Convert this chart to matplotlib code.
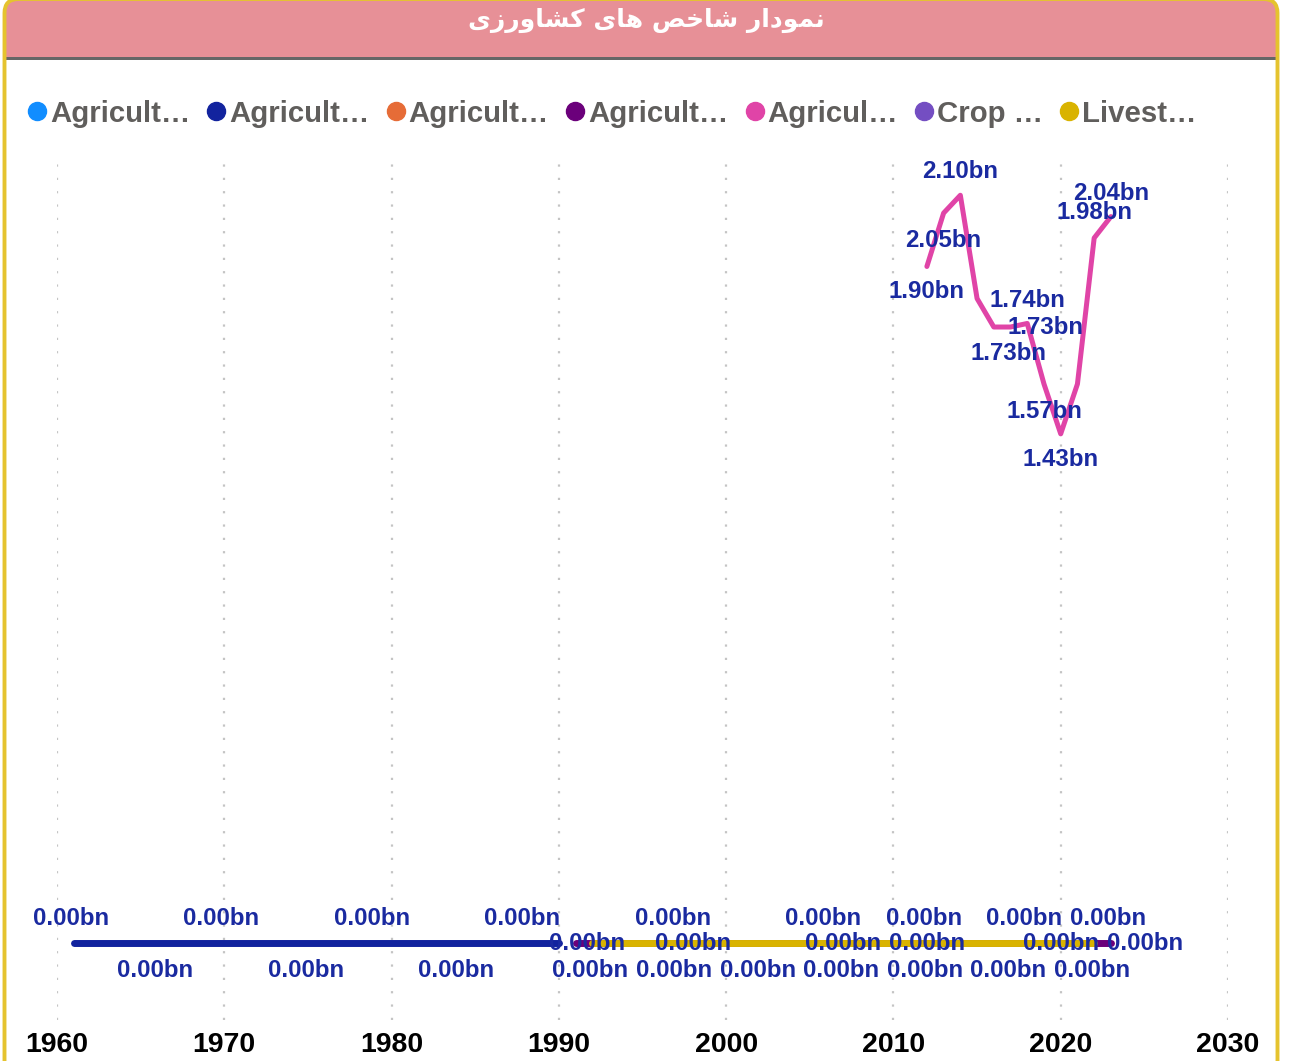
import matplotlib
matplotlib.use('Agg')
import matplotlib.pyplot as plt
from matplotlib.patches import FancyBboxPatch, Rectangle
from matplotlib.lines import Line2D
from matplotlib.transforms import IdentityTransform

plt.rcParams['font.family'] = ['Liberation Sans', 'DejaVu Sans']

# ---- data ----
title = "نمودار شاخص های کشاورزی"
legend_names = ["Agricult…", "Agricult…", "Agricult…", "Agricult…", "Agricul…", "Crop …", "Livest…"]
legend_colors = ['#118DFF', '#12239E', '#E66C37', '#6B007B', '#E044A7', '#744EC2', '#D9B300']

blue_years = list(range(1961, 1991))
blue_vals = [0.0] * len(blue_years)
purple_years = list(range(1991, 2024))
purple_vals = [0.0] * len(purple_years)
yellow_years = list(range(1992, 2023))
yellow_vals = [0.0] * len(yellow_years)
pink_years = [2012, 2013, 2014, 2015, 2016, 2017, 2018, 2019, 2020, 2021, 2022, 2023]
pink_vals = [1.90, 2.05, 2.10, 1.81, 1.73, 1.73, 1.74, 1.57, 1.43, 1.57, 1.98, 2.04]

# which points carry a visible data label
pink_label_years = [2012, 2013, 2014, 2016, 2017, 2018, 2019, 2020, 2022, 2023]
zero_above_years = [1961, 1970, 1979, 1988, 1997, 2006, 2012, 2018, 2023]
zero_mid_years = [1992, 1998, 2007, 2012, 2020, 2023]
zero_below_years = [1966, 1975, 1984, 1992, 1997, 2002, 2007, 2012, 2017, 2022]

# label placement (pixels) - layout only
pink_label_off = [(0, -25), (0, -27), (0, 24), (52, 0), (-2, -26), (0, 23),
                  (0, -28), (0, -26), (0, 25), (0, 23)]
mid_dx = [-5, 0, 0, 0, 0, 34]

W, H = 1289, 1061
LABEL_COLOR = '#1A2AA0'


def shape_arabic(text):
    # minimal contextual shaping for the title letters (iso, fin, ini, med)
    forms = {
        'ا': (0xFE8D, 0xFE8E, None, None), 'د': (0xFEA9, 0xFEAA, None, None),
        'ر': (0xFEAD, 0xFEAE, None, None), 'ز': (0xFEAF, 0xFEB0, None, None),
        'و': (0xFEED, 0xFEEE, None, None),
        'ن': (0xFEE5, 0xFEE6, 0xFEE7, 0xFEE8), 'م': (0xFEE1, 0xFEE2, 0xFEE3, 0xFEE4),
        'ش': (0xFEB5, 0xFEB6, 0xFEB7, 0xFEB8), 'خ': (0xFEA5, 0xFEA6, 0xFEA7, 0xFEA8),
        'ص': (0xFEB9, 0xFEBA, 0xFEBB, 0xFEBC), 'ه': (0xFEE9, 0xFEEA, 0xFEEB, 0xFEEC),
        'ی': (0xFBFC, 0xFBFD, 0xFBFE, 0xFBFF), 'ک': (0xFB8E, 0xFB8F, 0xFB90, 0xFB91),
    }
    out = []
    for i, ch in enumerate(text):
        if ch not in forms:
            out.append(ch)
            continue
        prev = text[i - 1] if i > 0 else ' '
        nxt = text[i + 1] if i + 1 < len(text) else ' '
        jp = prev in forms and forms[prev][2] is not None
        jn = forms[ch][2] is not None and nxt in forms
        iso, fin, ini, med = forms[ch]
        if jp and jn:
            code = med
        elif jp:
            code = fin
        elif jn:
            code = ini
        else:
            code = iso
        out.append(chr(code))
    return ''.join(out)[::-1]


def zero_val(year):
    for ys, vs in ((blue_years, blue_vals), (yellow_years, yellow_vals), (purple_years, purple_vals)):
        if year in ys:
            return vs[ys.index(year)]
    return 0.0


fig = plt.figure(figsize=(W / 100, H / 100), dpi=100)
px = IdentityTransform()

# header and card frame
fig.add_artist(FancyBboxPatch((6, H - 80), 1270, 82, boxstyle='round,pad=0,rounding_size=12',
                              facecolor='#E79097', edgecolor='none', transform=px, zorder=-5))
fig.add_artist(Rectangle((6, H - 100), 1270, 41, facecolor='white', edgecolor='none',
                         transform=px, zorder=-4))
fig.add_artist(Rectangle((6, H - 60), 1270, 3, facecolor='#666666', edgecolor='none',
                         transform=px, zorder=-3))
fig.add_artist(FancyBboxPatch((4.5, -40), 1273, H + 41, boxstyle='round,pad=0,rounding_size=14',
                              facecolor='none', edgecolor='#E5C32E', linewidth=2.8,
                              transform=px, zorder=5))

fig.text(646 / W, 1 - 20 / H, shape_arabic(title), color='white', fontsize=18,
         fontweight='bold', family=['DejaVu Sans'], ha='center', va='center')

# legend
renderer = fig.canvas.get_renderer()
x0 = 28
ly = 1 - 111 / H
for name, col in zip(legend_names, legend_colors):
    fig.add_artist(Line2D([(x0 + 9) / W], [ly], marker='o', markersize=13, color=col,
                          linestyle='none', transform=fig.transFigure))
    t = fig.text((x0 + 22) / W, ly, name, color='#605E5C', fontsize=21.2, fontweight='bold',
                 ha='left', va='center_baseline')
    bb = t.get_window_extent(renderer)
    x0 = bb.x1 + 17

# plot area
ax = fig.add_axes([57 / W, 41 / H, (1228 - 57) / W, 860 / H])
ax.patch.set_alpha(0)
ax.set_xlim(1960, 2030)
ax.set_ylim(-0.216, 2.199)

ax.plot(blue_years, blue_vals, color='#12239E', lw=5, solid_capstyle='round', zorder=3)
ax.plot(purple_years, purple_vals, color='#6B007B', lw=5, solid_capstyle='round', zorder=3)
ax.plot(yellow_years, yellow_vals, color='#D9B300', lw=5, solid_capstyle='round', zorder=4)
ax.plot(pink_years, pink_vals, color='#E044A7', lw=3.6, solid_capstyle='round', zorder=4)

lbl_kw = dict(textcoords='offset pixels', ha='center', va='center', color=LABEL_COLOR,
              fontsize=17.3, fontweight='bold', zorder=10)
for yr, (dx, dy) in zip(pink_label_years, pink_label_off):
    v = pink_vals[pink_years.index(yr)]
    ax.annotate(f"{v:.2f}bn", (yr, v), xytext=(dx, dy), **lbl_kw)
for yr in zero_above_years:
    v = zero_val(yr)
    ax.annotate(f"{v:.2f}bn", (yr, v), xytext=(-3, 25), **lbl_kw)
for yr, dx in zip(zero_mid_years, mid_dx):
    v = zero_val(yr)
    ax.annotate(f"{v:.2f}bn", (yr, v), xytext=(dx, 0), **lbl_kw)
for yr in zero_below_years:
    v = zero_val(yr)
    ax.annotate(f"{v:.2f}bn", (yr, v), xytext=(-2, -27), **lbl_kw)

ax.set_xticks(range(1960, 2031, 10))
ax.set_yticks([])
ax.tick_params(axis='x', length=0, pad=9, labelsize=20.5, labelcolor='black')
for lab in ax.get_xticklabels():
    lab.set_fontweight('bold')
ax.grid(axis='x', color='#C4C4C4', linestyle=(0, (1, 5)), linewidth=1.6)
for s in ax.spines.values():
    s.set_visible(False)

fig.savefig('out.png', dpi=100, facecolor='white')
